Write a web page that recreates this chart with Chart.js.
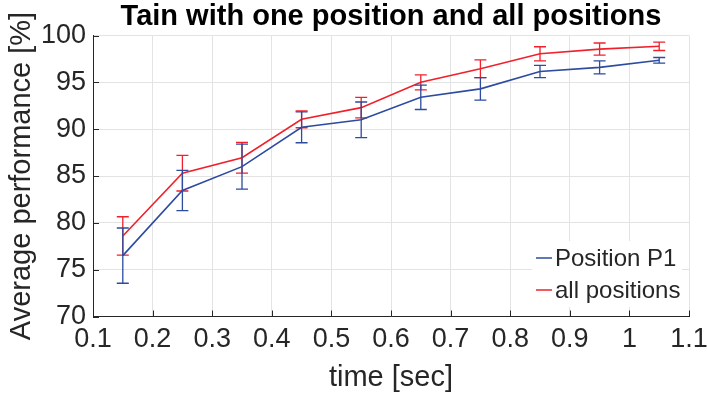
<!DOCTYPE html>
<html>
<head>
<meta charset="utf-8">
<script src="https://cdn.jsdelivr.net/npm/chart.js@4.4.1/dist/chart.umd.min.js"></script>
<style>
  html, body { margin: 0; padding: 0; background: #fff; }
  #wrap { width: 707px; height: 396px; }
</style>
</head>
<body>
<div id="wrap"><canvas id="chart" width="707" height="396"></canvas></div>
<script>
// data
const timeValues = [0.15, 0.25, 0.35, 0.45, 0.55, 0.65, 0.75, 0.85, 0.95, 1.05];
const p1Mean = [76.5, 83.45, 86.0, 90.2, 91.0, 93.4, 94.3, 96.15, 96.6, 97.35];
const p1Err = [2.95, 2.15, 2.4, 1.65, 1.9, 1.3, 1.2, 0.65, 0.7, 0.3];
const allMean = [78.6, 85.3, 86.95, 91.05, 92.3, 95.0, 96.45, 98.05, 98.55, 98.85];
const allErr = [2.05, 1.9, 1.65, 0.9, 1.1, 0.8, 0.95, 0.75, 0.65, 0.45];
const xTicks = [0.1, 0.2, 0.3, 0.4, 0.5, 0.6, 0.7, 0.8, 0.9, 1.0, 1.1];
const xTickLabels = ["0.1", "0.2", "0.3", "0.4", "0.5", "0.6", "0.7", "0.8", "0.9", "1", "1.1"];
const yTicks = [70, 75, 80, 85, 90, 95, 100];
const seriesNames = ["Position P1", "all positions"];

const FONT = "'Liberation Sans', Arial, Helvetica, sans-serif";
const INK = "#262626";
const BLUE = "#2d4b9f";
const RED = "#f0212b";

const toPoints = (means) => means.map((m, i) => ({ x: timeValues[i], y: m }));

// ============= plugins =============

const errorBars = {
  id: "errorBars",
  afterDatasetDraw(chart, args) {
    const ds = chart.data.datasets[args.index];
    if (!ds.errors) return;
    const xs = chart.scales.x, ys = chart.scales.y;
    const ctx = chart.ctx;
    ctx.save();
    ctx.strokeStyle = ds.borderColor;
    ctx.lineWidth = 1.3;
    ds.data.forEach((pt, i) => {
      const px = xs.getPixelForValue(pt.x);
      const top = ys.getPixelForValue(pt.y + ds.errors[i]);
      const bot = ys.getPixelForValue(pt.y - ds.errors[i]);
      ctx.beginPath();
      ctx.moveTo(px, top); ctx.lineTo(px, bot);
      ctx.moveTo(px - 6, top); ctx.lineTo(px + 6, top);
      ctx.moveTo(px - 6, bot); ctx.lineTo(px + 6, bot);
      ctx.stroke();
    });
    ctx.restore();
  },
};

// matlab style ticks pointing inwards
const innerTicks = {
  id: "innerTicks",
  afterDraw(chart) {
    const { ctx, chartArea: a } = chart;
    const xs = chart.scales.x, ys = chart.scales.y;
    ctx.save();
    ctx.strokeStyle = INK;
    ctx.lineWidth = 1;
    ctx.beginPath();
    for (const v of xTicks) {
      const px = Math.round(xs.getPixelForValue(v)) + 0.5;
      ctx.moveTo(px, a.bottom); ctx.lineTo(px, a.bottom - 6);
    }
    for (const v of yTicks) {
      const py = Math.round(ys.getPixelForValue(v)) + 0.5;
      ctx.moveTo(a.left, py); ctx.lineTo(a.left + 6, py);
    }
    ctx.stroke();
    ctx.restore();
  },
};

// legend inside the axes, lower right
const insideLegend = {
  id: "insideLegend",
  afterDraw(chart) {
    const { ctx, chartArea: a } = chart;
    const w = 150, h = 66;
    const x0 = a.right - 7 - w, y0 = a.bottom - 9.5 - h;
    ctx.save();
    ctx.fillStyle = "#fff";
    ctx.fillRect(x0, y0, w, h);
    ctx.font = `24px ${FONT}`;
    ctx.textBaseline = "middle";
    ctx.textAlign = "left";
    chart.data.datasets.forEach((ds, i) => {
      const cy = y0 + 17 + i * 32;
      ctx.strokeStyle = ds.borderColor;
      ctx.lineWidth = 1.5;
      ctx.beginPath();
      ctx.moveTo(x0 + 4, cy); ctx.lineTo(x0 + 20, cy);
      ctx.stroke();
      ctx.fillStyle = INK;
      ctx.fillText(ds.label, x0 + 23, cy + 1);
    });
    ctx.restore();
  },
};

// ============= chart =============

Chart.defaults.font.family = FONT;
Chart.defaults.color = INK;

new Chart(document.getElementById("chart"), {
  type: "line",
  data: {
    datasets: [
      {
        label: seriesNames[0],
        data: toPoints(p1Mean),
        errors: p1Err,
        borderColor: BLUE,
        borderWidth: 1.6,
        pointRadius: 0,
        tension: 0,
      },
      {
        label: seriesNames[1],
        data: toPoints(allMean),
        errors: allErr,
        borderColor: RED,
        borderWidth: 1.6,
        pointRadius: 0,
        tension: 0,
      },
    ],
  },
  options: {
    responsive: false,
    animation: false,
    devicePixelRatio: 1,
    layout: { padding: { top: 0, left: 0, right: 18, bottom: 0 } },
    plugins: {
      legend: { display: false },
      tooltip: { enabled: false },
      title: {
        display: true,
        text: "Tain with one position and all positions",
        fullSize: false,
        color: "#000",
        font: { family: FONT, size: 29, weight: "bold" },
        padding: { top: 0, bottom: 0.7 },
      },
    },
    scales: {
      x: {
        type: "linear",
        min: 0.1,
        max: 1.1,
        afterBuildTicks: (s) => { s.ticks = xTicks.map((v) => ({ value: v })); },
        afterFit: (s) => { s.height = 79.5; s.paddingLeft = 0; s.paddingRight = 0; },
        ticks: {
          padding: 7,
          font: { size: 27 },
          color: INK,
          maxRotation: 0,
          autoSkip: false,
          callback: (v, i) => xTickLabels[i],
        },
        grid: { color: "#e3e3e3", drawTicks: false },
        border: { color: INK, width: 1 },
        title: {
          display: true,
          text: "time [sec]",
          font: { size: 29 },
          color: INK,
          padding: { top: 0, bottom: 0.6 },
        },
      },
      y: {
        min: 70,
        max: 100,
        afterBuildTicks: (s) => { s.ticks = yTicks.map((v) => ({ value: v })); },
        afterFit: (s) => { s.width = 93; s.paddingTop = 0; s.paddingBottom = 0; },
        ticks: {
          padding: 7,
          font: { size: 27 },
          color: INK,
          callback: (v) => String(v),
        },
        grid: { color: "#e3e3e3", drawTicks: false },
        border: { color: INK, width: 1 },
        title: {
          display: true,
          text: "Average performance [%]",
          font: { size: 29 },
          color: INK,
          padding: { top: 4.6, bottom: 0 },
        },
      },
    },
  },
  plugins: [errorBars, innerTicks, insideLegend],
});
</script>
</body>
</html>
